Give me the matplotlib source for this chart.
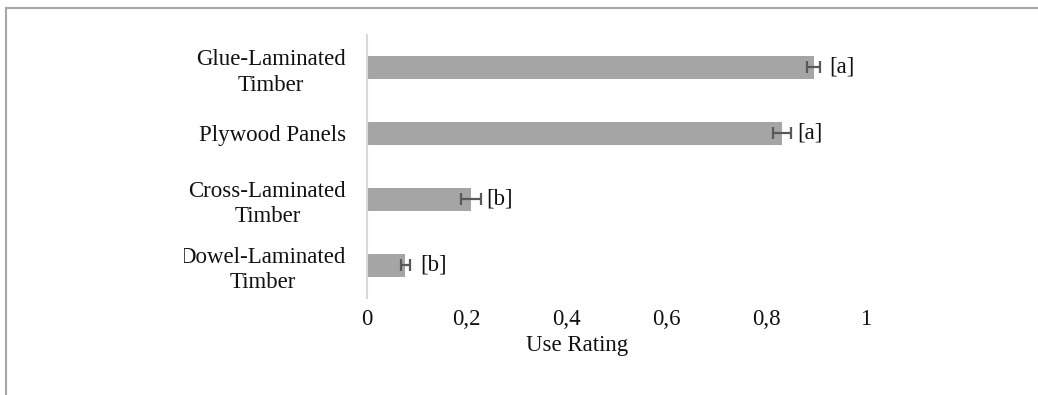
import matplotlib
matplotlib.use("Agg")
import matplotlib.pyplot as plt
from matplotlib.patches import Rectangle
from matplotlib.transforms import Bbox

# Timber product use ratings (mean with error), top to bottom
categories = ["Glue-Laminated\nTimber", "Plywood Panels",
              "Cross-Laminated\nTimber", "Dowel-Laminated\nTimber"]
ratings = [0.895, 0.832, 0.208, 0.077]
errors = [0.013, 0.018, 0.020, 0.009]
groups = ["[a]", "[a]", "[b]", "[b]"]
xticks = [0, 0.2, 0.4, 0.6, 0.8, 1]
xtick_labels = ["0", "0,2", "0,4", "0,6", "0,8", "1"]

plt.rcParams["font.family"] = ["Liberation Serif", "DejaVu Serif"]
FS = 16.5

fig = plt.figure(figsize=(10.38, 3.95), dpi=100)
W, H = 1038, 395

# chart-area frame (only its top and left edges fall inside the figure)
fig.patches.append(Rectangle((5.5 / W, -0.1), 1.2, 1.1 - 8.5 / H,
                             transform=fig.transFigure, fill=False,
                             edgecolor="#A6A6A6", linewidth=1.5))

ax = fig.add_axes([367 / W, 1 - 298 / H, 499 / W, (298 - 34.5) / H])
ypos = list(range(len(categories)))
ax.barh(ypos, ratings, height=0.35, color="#A5A5A5", zorder=2)
ax.errorbar(ratings, ypos, xerr=errors, fmt="none", ecolor="#595959",
            elinewidth=1.6, capsize=4, capthick=1.6, zorder=3)
for y, v, g in zip(ypos, ratings, groups):
    ax.annotate(g, (v, y), xytext=(11, 0), textcoords="offset points",
                ha="left", va="center", fontsize=FS, color="#111111")

ax.set_xlim(0, 1)
ax.set_ylim(len(categories) - 0.5, -0.5)
ax.set_xticks(xticks)
ax.set_xticklabels(xtick_labels, fontsize=FS)
ax.set_yticks(ypos)
ax.set_yticklabels(categories, fontsize=FS, linespacing=1.3,
                   multialignment="center")
ax.tick_params(axis="x", length=0, pad=8, colors="#111111")
ax.tick_params(axis="y", length=0, pad=15, colors="#111111")
for s in ["top", "right", "bottom"]:
    ax.spines[s].set_visible(False)
ax.spines["left"].set_color("#D9D9D9")
ax.spines["left"].set_linewidth(1.5)

ax.text(0.42, -47 / 263.5, "Use Rating", transform=ax.transAxes,
        ha="center", va="center", fontsize=FS, color="#111111")

# the last category label is cut at the chart's left edge
clip = Bbox.from_extents(184, 0, W, H)
lbl = ax.get_yticklabels()[-1]
lbl.set_clip_box(clip)
lbl.set_clip_on(True)

fig.savefig("out.png", dpi=100)
